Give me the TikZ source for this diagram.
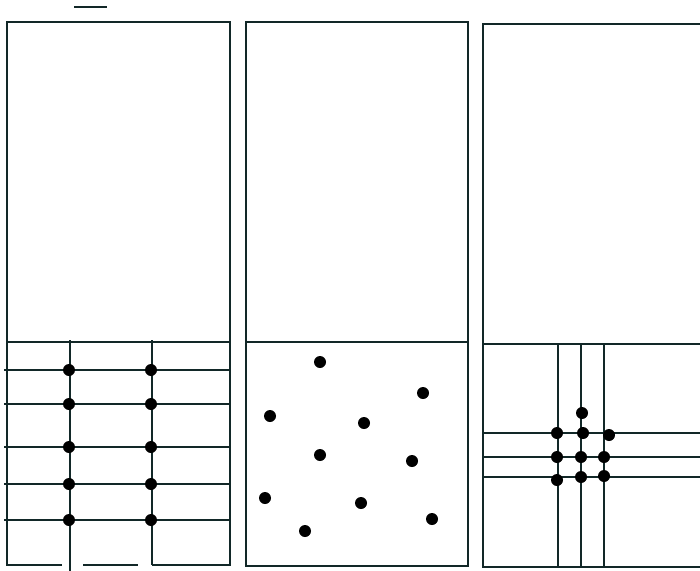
\documentclass[tikz,border=0pt]{standalone}
\usepackage{tikz}
\definecolor{ink}{RGB}{18,40,40}

\begin{document}
\begin{tikzpicture}[
        x=0.75pt, y=-0.75pt,
        frame/.style={draw=ink, line width=1.9pt},
        grid/.style={draw=ink, line width=1.7pt},
        dot/.style={fill=black}
    ]
    \useasboundingbox (0,0) rectangle (700,571);
    % small mark above the first panel
    \draw[grid] (74,7) -- (107,7);
    % panel 1: regular grid
    \draw[frame] (7,22) rectangle (230,342);
    \draw[frame] (7,342) -- (7,565) -- (62,565);
    \draw[frame] (83,565) -- (138,565);
    \draw[frame] (152,565) -- (230,565) -- (230,342);
    \foreach \y in {370,404,447,484,520}
        \draw[grid] (4,\y) -- (230,\y);
    \draw[grid] (70,340) -- (70,571);
    \draw[grid] (152,340) -- (152,565);
    \foreach \y in {370,404,447,484,520} {
        \fill[dot] (69,\y) circle (6);
        \fill[dot] (151,\y) circle (6);
    }
    % panel 2: scattered points
    \draw[frame] (246,22) rectangle (468,342);
    \draw[frame] (246,342) rectangle (468,566);
    \foreach \px/\py in {320/362, 423/393, 270/416, 364/423, 320/455,
                         412/461, 265/498, 361/503, 432/519, 305/531}
        \fill[dot] (\px,\py) circle (6);
    % panel 3: clustered grid
    \draw[frame] (700,24) -- (483,24) -- (483,567) -- (700,567);
    \draw[frame] (483,344) -- (700,344);
    \foreach \x in {558,581,604}
        \draw[grid] (\x,344) -- (\x,567);
    \foreach \y in {433,457,477}
        \draw[grid] (483,\y) -- (700,\y);
    \foreach \px/\py in {582/413, 557/433, 583/433, 609/435, 557/457,
                         581/457, 604/457, 557/480, 581/477, 604/476}
        \fill[dot] (\px,\py) circle (6);
\end{tikzpicture}
\end{document}
